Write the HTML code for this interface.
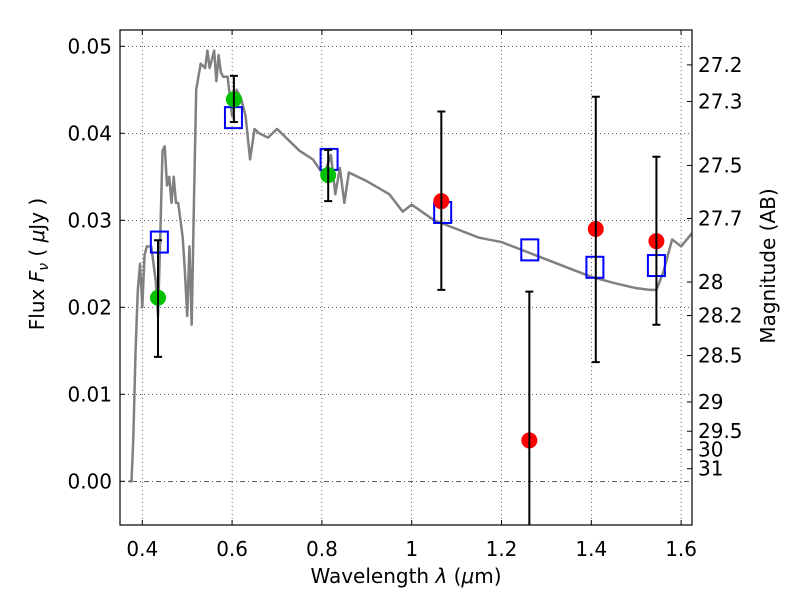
<!DOCTYPE html>
<html><head><meta charset="utf-8"><style>
body{margin:0;background:#fff;}
svg text{font-family:"DejaVu Sans","Liberation Sans",sans-serif;}
</style></head><body>
<svg id="c" width="800" height="600" xmlns="http://www.w3.org/2000/svg"></svg>
<script>
const xTicks=[0.4,0.6,0.8,1.0,1.2,1.4,1.6];
const xTickLabels=["0.4","0.6","0.8","1","1.2","1.4","1.6"];
const yTicks=[0,0.01,0.02,0.03,0.04,0.05];
const yTickLabels=["0.00","0.01","0.02","0.03","0.04","0.05"];
const magTicks=[27.2,27.3,27.5,27.7,28,28.2,28.5,29,29.5,30,31];
const magLabels=["27.2","27.3","27.5","27.7","28","28.2","28.5","29","29.5","30","31"];
const specX=[0.37,0.376,0.38,0.385,0.39,0.395,0.40,0.405,0.41,0.42,0.43,0.435,0.44,0.445,0.45,0.455,0.46,0.465,0.47,0.475,0.48,0.49,0.495,0.50,0.505,0.51,0.515,0.52,0.53,0.54,0.545,0.55,0.56,0.565,0.57,0.575,0.58,0.59,0.60,0.61,0.62,0.63,0.64,0.65,0.66,0.68,0.70,0.72,0.75,0.78,0.80,0.81,0.82,0.83,0.84,0.85,0.86,0.90,0.95,0.98,1.0,1.05,1.1,1.15,1.2,1.25,1.3,1.35,1.4,1.45,1.5,1.53,1.545,1.56,1.58,1.60,1.624];
const specY=[0,0,0.005,0.015,0.022,0.025,0.02,0.026,0.027,0.027,0.023,0.019,0.028,0.038,0.0385,0.034,0.035,0.032,0.035,0.032,0.032,0.028,0.024,0.019,0.027,0.018,0.032,0.045,0.048,0.0475,0.0495,0.0475,0.0495,0.046,0.049,0.047,0.0465,0.0465,0.042,0.045,0.044,0.042,0.037,0.0405,0.04,0.0395,0.0405,0.0395,0.038,0.037,0.0355,0.036,0.0375,0.033,0.036,0.032,0.0355,0.0345,0.033,0.031,0.0318,0.030,0.029,0.028,0.0275,0.0265,0.0255,0.0245,0.0235,0.0228,0.0222,0.022,0.022,0.024,0.0278,0.027,0.0285];
const greenX=[0.435,0.604,0.814];
const greenY=[0.0211,0.0439,0.0352];
const greenLo=[0.0143,0.0413,0.0322];
const greenHi=[0.0277,0.0466,0.0381];
const redX=[1.066,1.262,1.410,1.545];
const redY=[0.0322,0.0047,0.0290,0.0276];
const redLo=[0.0220,-0.006,0.0137,0.0180];
const redHi=[0.0425,0.0218,0.0442,0.0373];
const boxX=[0.438,0.603,0.816,1.069,1.263,1.408,1.545];
const boxY=[0.0275,0.0418,0.0370,0.0309,0.0266,0.0246,0.0248];

const L=120,R=692,T=30,B=525;
const X=v=>142.3+(v-0.4)*449;
const Y=v=>481.3-v*8700;
const NS="http://www.w3.org/2000/svg";
const svg=document.getElementById('c');
function mk(tag,at,parent){const e=document.createElementNS(NS,tag);for(const k in at)e.setAttribute(k,at[k]);(parent||svg).appendChild(e);return e;}
const defs=mk('defs',{});const cp=mk('clipPath',{id:'clip'},defs);mk('rect',{x:L,y:T,width:R-L,height:B-T},cp);

xTicks.forEach((t,i)=>{
 const g=mk('line',{x1:X(t),x2:X(t),y1:T,y2:B,stroke:'#000','stroke-width':0.6,'stroke-dasharray':'1,3'});
 
 
 const tk=mk('path',{d:`M${X(t)},${B}v-5M${X(t)},${T}v5`,stroke:'#000','stroke-width':1});
 
 
 const tx=mk('text',{x:X(t),y:556,'text-anchor':'middle','font-size':20});tx.textContent=xTickLabels[i];
 
 
});
yTicks.forEach((t,i)=>{
 const g=mk('line',{x1:L,x2:R,y1:Y(t),y2:Y(t),stroke:'#000','stroke-width':0.6,'stroke-dasharray':t===0?'5,3,1,3':'1,3'});
 
 
 const tk=mk('path',{d:`M${L},${Y(t)}h5`,stroke:'#000','stroke-width':1});
 
 
 const tx=mk('text',{x:112,y:Y(t)+7,'text-anchor':'end','font-size':20});tx.textContent=yTickLabels[i];
 
 
});
magTicks.forEach((m,i)=>{
 const f=Math.pow(10,-0.4*(m-23.9));const y=Y(f);
 const tk=mk('path',{d:`M${R},${y}h-5`,stroke:'#000','stroke-width':1});
 
 
 const tx=mk('text',{x:698,y:y+7,'font-size':20});tx.textContent=magLabels[i];
 
 
});

const plot=mk('g',{'clip-path':'url(#clip)'});


const sp=mk('polyline',{points:specX.map((x,i)=>X(x)+','+Y(specY[i])).join(' '),fill:'none',stroke:'#808080','stroke-width':2.5,'stroke-linejoin':'round'},plot);



function errbar(x,lo,hi){
 const e=mk('path',{d:`M${X(x)},${Y(lo)}V${Y(hi)}M${X(x)-4},${Y(lo)}h8M${X(x)-4},${Y(hi)}h8`,stroke:'#000','stroke-width':2,fill:'none'},plot);
 
 
}
boxX.forEach((x,i)=>{
 const r=mk('rect',{x:X(x)-8.5,y:Y(boxY[i])-10.5,width:17,height:21,fill:'none',stroke:'#0000ff','stroke-width':2},plot);
 
 
});
greenX.forEach((x,i)=>{
 const c=mk('circle',{cx:X(x),cy:Y(greenY[i]),r:8,fill:'#00c000'},plot);
 
 
 errbar(x,greenLo[i],greenHi[i]);
});
redX.forEach((x,i)=>{
 const c=mk('circle',{cx:X(x),cy:Y(redY[i]),r:8,fill:'#ff0000'},plot);
 
 
 errbar(x,redLo[i],redHi[i]);
});

const fr=mk('rect',{x:L,y:T,width:R-L,height:B-T,fill:'none',stroke:'#000','stroke-width':1.2});



const xl=mk('text',{x:406,y:583,'text-anchor':'middle','font-size':20});
xl.innerHTML='Wavelength  <tspan font-style="italic">λ</tspan> (<tspan font-style="italic">μ</tspan>m)';


const yl=mk('text',{x:0,y:0,'text-anchor':'middle','font-size':20,transform:'translate(44,264) rotate(-90)'});
yl.innerHTML='Flux  <tspan font-style="italic">F</tspan><tspan font-style="italic" font-size="14" dy="4">ν</tspan><tspan dy="-4">  ( </tspan><tspan font-style="italic">μ</tspan>Jy )';


const ml=mk('text',{x:0,y:0,'text-anchor':'middle','font-size':20,transform:'translate(775,266) rotate(-90)'});
ml.textContent='Magnitude (AB)';


</script>
</body></html>
